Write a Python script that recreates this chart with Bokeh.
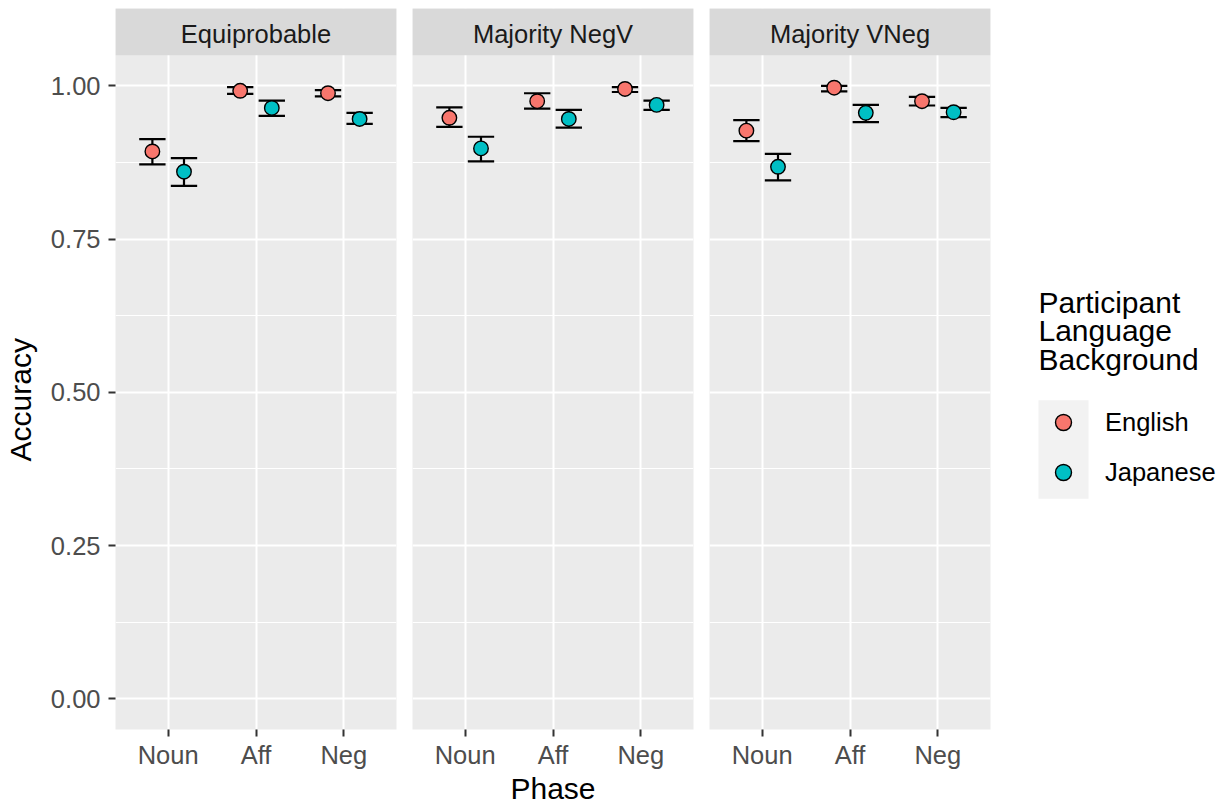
import math
from bokeh.plotting import figure
from bokeh.layouts import row
from bokeh.models import (ColumnDataSource, FactorRange, Range1d, FixedTicker,
                          Legend, LegendItem, BoxAnnotation, Label)
from bokeh.transform import dodge
from bokeh.embed import file_html
from bokeh.resources import INLINE

# ---------------- data ----------------
conditions = ["Equiprobable", "Majority NegV", "Majority VNeg"]
phases = ["Noun", "Aff", "Neg"]
languages = ["English", "Japanese"]
colors = ["#F8766D", "#00BFC4"]
legend_title_lines = ["Participant", "Language", "Background"]

# mean accuracy per condition (rows) and phase (Noun, Aff, Neg)
english_mean = [[0.893, 0.992, 0.988],
                [0.948, 0.975, 0.995],
                [0.927, 0.997, 0.975]]
english_lo = [[0.872, 0.987, 0.983],
              [0.933, 0.963, 0.990],
              [0.910, 0.991, 0.968]]
english_hi = [[0.913, 0.998, 0.993],
              [0.965, 0.988, 0.998],
              [0.944, 1.000, 0.982]]
japanese_mean = [[0.860, 0.964, 0.946],
                 [0.898, 0.946, 0.969],
                 [0.868, 0.956, 0.957]]
japanese_lo = [[0.837, 0.951, 0.938],
               [0.877, 0.932, 0.961],
               [0.846, 0.941, 0.949]]
japanese_hi = [[0.882, 0.976, 0.956],
               [0.917, 0.961, 0.976],
               [0.889, 0.969, 0.964]]

y_ticks = [0.0, 0.25, 0.5, 0.75, 1.0]
y_minor = [0.125, 0.375, 0.625, 0.875]
y_tick_labels = {0.0: "0.00", 0.25: "0.25", 0.5: "0.50", 0.75: "0.75", 1.0: "1.00"}

# ---------------- style ----------------
FONT = "Liberation Sans"
TXT = "25.5px"
TITLE = "30px"
PANEL_BG = "#EBEBEB"
STRIP_BG = "#D9D9D9"
DODGE = 0.18
CAP = 0.15

H = 807
FRAME_W = 281
widths = [404, 297, 297]
left_b = [115, 8, 8]
right_b = [8, 8, 8]
TOP_B = 8
BOTTOM_B = 74
Y0, Y1 = -0.05, 1.05
STRIP_TOP = 1.12625

figs = []
sources = {}
for ci, cond in enumerate(conditions):
    p = figure(width=widths[ci], height=H,
               x_range=FactorRange(*phases, range_padding=0.1,
                                   range_padding_units="absolute"),
               y_range=Range1d(Y0, STRIP_TOP),
               y_axis_location="left" if ci == 0 else None,
               output_backend="svg", toolbar_location=None,
               min_border_left=left_b[ci], min_border_right=right_b[ci],
               min_border_top=TOP_B, min_border_bottom=BOTTOM_B)
    p.background_fill_color = PANEL_BG
    p.border_fill_color = "white"
    p.outline_line_color = None

    # grids
    p.xgrid.grid_line_color = "white"
    p.xgrid.grid_line_width = 2
    p.ygrid.ticker = FixedTicker(ticks=y_ticks, minor_ticks=y_minor)
    p.ygrid.grid_line_color = "white"
    p.ygrid.grid_line_width = 2
    p.ygrid.minor_grid_line_color = "white"
    p.ygrid.minor_grid_line_width = 1

    # x axis
    xa = p.xaxis[0]
    xa.axis_line_color = None
    xa.major_tick_out = 7
    xa.major_tick_in = 0
    xa.major_tick_line_color = "#333333"
    xa.major_tick_line_width = 2
    xa.major_label_text_font = FONT
    xa.major_label_text_font_size = TXT
    xa.major_label_text_color = "#4D4D4D"
    xa.major_label_standoff = 4
    if ci == 1:
        xa.axis_label = "Phase"
        xa.axis_label_text_font = FONT
        xa.axis_label_text_font_size = TITLE
        xa.axis_label_text_font_style = "normal"
        xa.axis_label_text_color = "black"
        xa.axis_label_standoff = 0

    if ci == 0:
        ya = p.yaxis[0]
        ya.ticker = FixedTicker(ticks=y_ticks, minor_ticks=[])
        ya.major_label_overrides = y_tick_labels
        ya.bounds = (Y0, Y1)
        ya.axis_line_color = None
        ya.major_tick_out = 7
        ya.major_tick_in = 0
        ya.minor_tick_out = 0
        ya.minor_tick_in = 0
        ya.major_tick_line_color = "#333333"
        ya.major_tick_line_width = 2
        ya.major_label_text_font = FONT
        ya.major_label_text_font_size = TXT
        ya.major_label_text_color = "#4D4D4D"
        ya.major_label_standoff = 8
        # y axis title, centred on the panel (not on the strip)
        p.add_layout(Label(x=6, x_units="screen", y=0.488,
                           text="Accuracy", angle=math.pi / 2,
                           text_align="center", text_baseline="alphabetic",
                           text_font=FONT, text_font_size=TITLE,
                           text_color="black"), "left")

    # strip
    p.add_layout(BoxAnnotation(bottom=Y1, fill_color=STRIP_BG, fill_alpha=1,
                               line_color=None))
    p.add_layout(Label(x=FRAME_W / 2, x_units="screen", y=1.085,
                       text=cond, text_align="center", text_baseline="middle",
                       text_font=FONT, text_font_size=TXT, text_color="#1A1A1A"))

    # data
    series = [(english_mean, english_lo, english_hi, -DODGE, colors[0], "English"),
              (japanese_mean, japanese_lo, japanese_hi, DODGE, colors[1], "Japanese")]
    for mean, lo, hi, off, col, lang in series:
        src = ColumnDataSource(dict(phase=phases, mean=mean[ci], lo=lo[ci], hi=hi[ci]))
        sources[lang] = src
        xc = dodge("phase", off, range=p.x_range)
        xl = dodge("phase", off - CAP, range=p.x_range)
        xr = dodge("phase", off + CAP, range=p.x_range)
        p.segment(x0=xc, x1=xc, y0="lo", y1="hi", source=src,
                  line_color="black", line_width=2.2)
        p.segment(x0=xl, x1=xr, y0="lo", y1="lo", source=src,
                  line_color="black", line_width=2.2)
        p.segment(x0=xl, x1=xr, y0="hi", y1="hi", source=src,
                  line_color="black", line_width=2.2)
        p.scatter(x=xc, y="mean", source=src, size=14.5, fill_color=col,
                  line_color="black", line_width=1.4)
    figs.append(p)

# ---------------- legend figure (pixel-unit ranges) ----------------
LW = 221
pl = figure(width=LW, height=H, x_range=Range1d(0, LW),
            y_range=Range1d(BOTTOM_B, H - TOP_B),
            x_axis_location=None, y_axis_location=None,
            output_backend="svg", toolbar_location=None,
            min_border_left=0, min_border_right=0,
            min_border_top=TOP_B, min_border_bottom=BOTTOM_B)
pl.outline_line_color = None
pl.background_fill_color = "white"
pl.border_fill_color = "white"
pl.xgrid.visible = False
pl.ygrid.visible = False

# frame bottom is at canvas y = H - BOTTOM_B = 733; data y = H - canvas y
# legend title (three lines)
for li, line in enumerate(legend_title_lines):
    pl.add_layout(Label(x=40, y=(H - 303.5) - 28.7 * li, text=line,
                        text_align="left", text_baseline="middle",
                        text_font=FONT, text_font_size=TITLE, text_color="black"))
# grey key background (legend.key)
pl.add_layout(BoxAnnotation(left=40, right=90, bottom=H - 501, top=H - 402,
                            fill_color="#F2F2F2", fill_alpha=1, line_color=None,
                            level="underlay"))
# proxy renderers (hidden) so that the legend draws the keys
key_r = []
for lang, c in zip(languages, colors):
    r = pl.scatter(x="mean", y="mean", source=sources[lang], size=14.5,
                   fill_color=c, line_color="black", line_width=1.4)
    r.visible = False
    key_r.append(r)
legend = Legend(items=[LegendItem(label=lang, renderers=[r])
                       for lang, r in zip(languages, key_r)],
                location=(45, 232), orientation="vertical",
                label_text_font=FONT, label_text_font_size=TXT, label_text_color="black",
                glyph_width=40, glyph_height=50, label_height=50, label_standoff=22,
                spacing=0, padding=0, margin=0, click_policy="none",
                background_fill_alpha=0, border_line_color=None)
pl.add_layout(legend)
figs.append(pl)

layout = row(*figs, spacing=0)
open("out.html", "w").write(file_html(layout, INLINE))
